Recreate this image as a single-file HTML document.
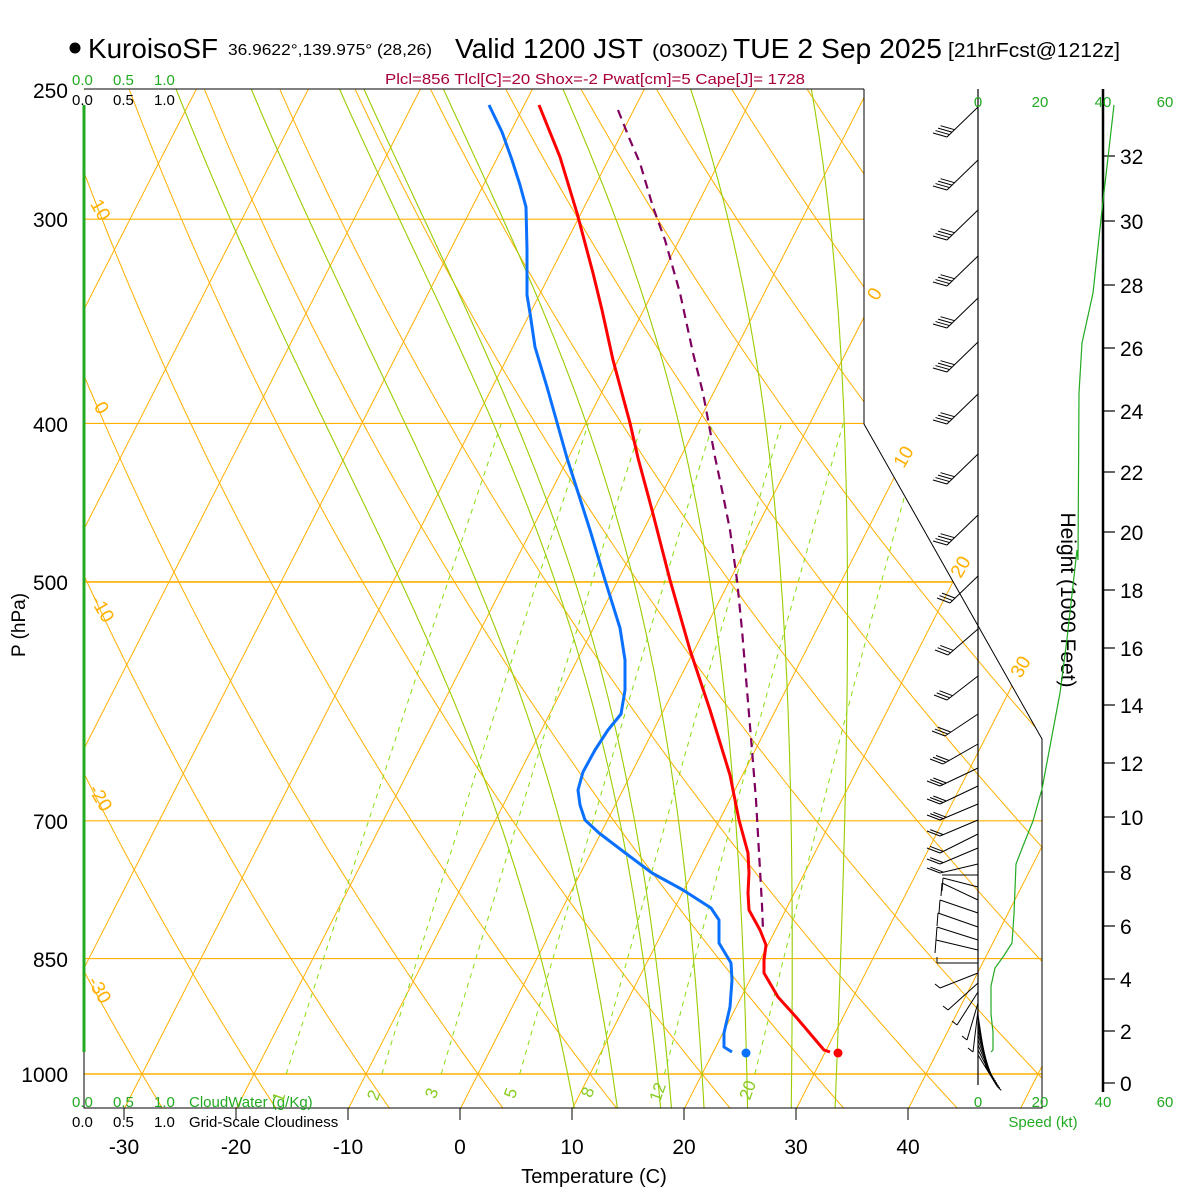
<!DOCTYPE html>
<html><head><meta charset="utf-8">
<style>
html,body{margin:0;padding:0;background:#fff;}
svg{display:block;font-family:"Liberation Sans",Arial,sans-serif;}
</style></head>
<body>
<svg id="s" width="1200" height="1200" viewBox="0 0 1200 1200" xmlns="http://www.w3.org/2000/svg">
<defs>
<clipPath id="cp"><polygon points="84,89 864,89 864,424 1042,739 1042,1108 84,1108"/></clipPath>
<clipPath id="cp2"><polygon points="84,89 864,89 864,424 1042,739 1042,1074 84,1074"/></clipPath>
</defs>
<g id="bg" clip-path="url(#cp)"></g>
<g id="fg"></g>
<!-- frame -->
<polyline points="864,89 84,89" fill="none" stroke="#000" stroke-width="1"/>
<polyline points="864,89 864,424 1042,739 1042,1108 84,1108 84,1052" fill="none" stroke="#000" stroke-width="1"/>
<line x1="84" y1="105" x2="84" y2="1052" stroke="#22aa22" stroke-width="3"/>
<!-- speed / height axes -->
<line x1="978" y1="89" x2="978" y2="1085" stroke="#000" stroke-width="1.2"/>
<line x1="1103" y1="89" x2="1103" y2="1092" stroke="#000" stroke-width="2.5"/>
<g id="ht" font-size="21" fill="#000"></g>
<text transform="translate(1061,600) rotate(90)" font-size="21" text-anchor="middle" fill="#000">Height (1000 Feet)</text>
<!-- title -->
<circle cx="75" cy="48" r="5.5" fill="#000"/>
<text x="88" y="58" font-size="28" textLength="130" lengthAdjust="spacingAndGlyphs">KuroisoSF</text>
<text x="228" y="55" font-size="16" textLength="204" lengthAdjust="spacingAndGlyphs">36.9622°,139.975° (28,26)</text>
<text x="455" y="58" font-size="28" textLength="188" lengthAdjust="spacingAndGlyphs">Valid 1200 JST</text>
<text x="652" y="57" font-size="18" textLength="76" lengthAdjust="spacingAndGlyphs">(0300Z)</text>
<text x="733" y="58" font-size="28" textLength="209" lengthAdjust="spacingAndGlyphs">TUE 2 Sep 2025</text>
<text x="948" y="57" font-size="20" textLength="172" lengthAdjust="spacingAndGlyphs">[21hrFcst@1212z]</text>
<text x="385" y="84" font-size="15" fill="#a8003c" textLength="420" lengthAdjust="spacingAndGlyphs">Plcl=856 Tlcl[C]=20 Shox=-2 Pwat[cm]=5 Cape[J]= 1728</text>
<!-- cloud labels -->
<g font-size="15" fill="#22aa22"><text x="72" y="85">0.0</text><text x="113" y="85">0.5</text><text x="154" y="85">1.0</text></g>
<g font-size="15" fill="#000"><text x="72" y="105">0.0</text><text x="113" y="105">0.5</text><text x="154" y="105">1.0</text></g>
<g font-size="15" fill="#22aa22"><text x="72" y="1107">0.0</text><text x="113" y="1107">0.5</text><text x="154" y="1107">1.0</text><text x="189" y="1107">CloudWater (g/Kg)</text></g>
<g font-size="15" fill="#000"><text x="72" y="1127">0.0</text><text x="113" y="1127">0.5</text><text x="154" y="1127">1.0</text><text x="189" y="1127">Grid-Scale Cloudiness</text></g>
<!-- speed labels -->
<g font-size="15" fill="#22aa22" text-anchor="middle"><text x="978" y="107">0</text><text x="1040" y="107">20</text><text x="1103" y="107">40</text><text x="1165" y="107">60</text>
<text x="978" y="1107">0</text><text x="1040" y="1107">20</text><text x="1103" y="1107">40</text><text x="1165" y="1107">60</text>
<text x="1043" y="1127">Speed (kt)</text></g>
<!-- pressure labels -->
<g font-size="21" fill="#000" text-anchor="end">
<text x="68" y="98">250</text><text x="68" y="227">300</text><text x="68" y="432">400</text><text x="68" y="590">500</text><text x="68" y="829">700</text><text x="68" y="967">850</text><text x="68" y="1082">1000</text></g>
<text transform="translate(25,625) rotate(-90)" font-size="19" text-anchor="middle">P (hPa)</text>
<g id="tl" font-size="21" fill="#000" text-anchor="middle"></g>
<text x="594" y="1183" font-size="20" text-anchor="middle">Temperature (C)</text>
<!-- orange labels -->
<g font-size="19" fill="#ffb000" text-anchor="middle">
<text transform="translate(95,213) rotate(60)">10</text>
<text transform="translate(96,411) rotate(60)">0</text>
<text transform="translate(97,612) rotate(60)">-10</text>
<text transform="translate(95,801) rotate(60)">-20</text>
<text transform="translate(94,993) rotate(60)">-30</text>
<text transform="translate(880,297) rotate(-60)">0</text>
<text transform="translate(909,460) rotate(-60)">10</text>
<text transform="translate(966,570) rotate(-60)">20</text>
<text transform="translate(1026,670) rotate(-60)">30</text>
</g>
<g font-size="17" fill="#88cc22" text-anchor="middle">
<text transform="translate(284,1099) rotate(-70)">1</text>
<text transform="translate(379,1097) rotate(-70)">2</text>
<text transform="translate(437,1095) rotate(-70)">3</text>
<text transform="translate(516,1095) rotate(-70)">5</text>
<text transform="translate(593,1094) rotate(-70)">8</text>
<text transform="translate(663,1094) rotate(-70)">12</text>
<text transform="translate(753,1092) rotate(-70)">20</text>
</g>
<!-- speed profile -->
<polyline fill="none" stroke="#22aa22" stroke-width="1.2" points="1114,105 1102,210 1093,293 1082,343 1079,393 1078,560 1077,550 1067,639 1060,693 1042,789 1033,821 1023,846 1016,864 1014,914 1012,943 1003,957 995,968 991,986 991,1014 993,1032 993,1050 991,1052"/>
<g id="wb" stroke="#000" stroke-width="1" fill="none"></g>
<!-- profiles -->
<polyline fill="none" stroke="#800060" stroke-width="2.2" stroke-dasharray="9,6" points="618,110 630,140 640,163 653,207 665,240 680,293 693,353 703,393 715,457 722,490 730,530 737,580 742,630 747,690 752,750 756,800 758,835 760,870 762,905 763,930"/>
<polyline fill="none" stroke="#ff0000" stroke-width="3" stroke-linejoin="round" points="539,105 560,157 577,213 593,273 602,310 613,360 630,423 638,458 652,510 670,580 690,650 710,710 730,775 739,820 748,853 749,873 748,893 749,910 760,930 766,945 764,960 764,973 778,997 796,1017 813,1037 824,1050 830,1052"/>
<circle cx="838" cy="1053" r="4.5" fill="#ff0000"/>
<polyline fill="none" stroke="#0a70ff" stroke-width="3" stroke-linejoin="round" points="489,105 502,132 512,160 520,185 526,207 527,250 527,295 530,313 535,347 547,387 567,458 590,530 605,580 620,628 625,660 625,690 621,714 608,730 595,750 583,772 578,790 580,805 585,820 599,833 624,852 652,873 683,890 711,908 719,920 719,943 731,963 732,980 730,1007 724,1033 724,1047 732,1052"/>
<circle cx="746" cy="1053" r="4.5" fill="#0a70ff"/>
</svg>
<script>
(function(){
var NS="http://www.w3.org/2000/svg";
function yP(p){return 1074-710*Math.log(1000/p);}
function xT(T,y){return 478+11.2*T+0.51*(1074-y);}
var bg=document.getElementById('bg');
function pl(pts,stroke,w,dash,parent){var e=document.createElementNS(NS,'polyline');e.setAttribute('points',pts.map(function(a){return a[0].toFixed(1)+','+a[1].toFixed(1)}).join(' '));e.setAttribute('fill','none');e.setAttribute('stroke',stroke);e.setAttribute('stroke-width',w);if(dash)e.setAttribute('stroke-dasharray',dash);(parent||bg).appendChild(e);}
var OR="#ffb000";
[300,400,500,700,850,1000].forEach(function(p){var y=yP(p);pl([[84,y],[1100,y]],OR,(p==500||p==1000)?1.6:1.1);});
for(var T=-110;T<=70;T+=10){pl([[xT(T,1108),1108],[xT(T,89),89]],OR,1);}
for(var th=-40;th<=160;th+=10){var pts=[];for(var p=1060;p>=245;p-=10){var T=(th+273.15)*Math.pow(p/1000,0.286)-273.15;var y=yP(p);pts.push([xT(T,y),y]);}pl(pts,OR,1);}
function es(Tc){return 6.112*Math.exp(17.67*Tc/(Tc+243.5));}
function dTdp(T,p){var Tc=T-273.15;var e=es(Tc);var rs=0.622*e/(p-e);var Lv=2.5e6,Rd=287,cp=1004;return (1/p)*(Rd*T+Lv*rs)/(cp+Lv*Lv*rs*0.622/(Rd*T*T));}
var MG="#99cc00";
[8,12,16,17,20,24,28,32].forEach(function(tw){
 var pts=[];var Td=tw+273.15,pd=1000;while(pd<1060){var h=2;Td+=dTdp(Td,pd)*h;pd+=h;}
 var T=Td,p=pd;
 while(p>245){var y=yP(p);pts.push([xT(T-273.15,y),y]);var h=-2;var k1=dTdp(T,p);var k2=dTdp(T+k1*h/2,p+h/2);T+=k2*h;p+=h;}
 pl(pts,MG,1.1);
});
var cp2=document.createElementNS(NS,'g');cp2.setAttribute('clip-path','url(#cp2)');bg.appendChild(cp2);
[1,2,3,5,8,12,20].forEach(function(w){var pts=[];for(var p=1000;p>=400;p-=10){var e=w*p/(622+w);var l=Math.log(e/6.112);var Td=243.5*l/(17.67-l);var y=yP(p);pts.push([xT(Td,y),y]);}pl(pts,"#88dd11",1,"5,5",cp2);});
var tl=document.getElementById('tl');
var fg=document.getElementById('fg');
for(var t=-30;t<=40;t+=10){var x=460+11.2*t;var tx=document.createElementNS(NS,'text');tx.setAttribute('x',x);tx.setAttribute('y',1154);tx.textContent=String(t);tl.appendChild(tx);pl([[x,1108],[x,1120]],"#000",1,null,fg);}
var ht=document.getElementById('ht');
var hy={0:1083,2:1031,4:979,6:926,8:872,10:817,12:763,14:705,16:648,18:590,20:532,22:472,24:411,26:348,28:285,30:221,32:156};
for(var k in hy){var y=hy[k];pl([[1103,y],[1115,y]],"#000",1.2,null,fg);var tx=document.createElementNS(NS,'text');tx.setAttribute('x',1120);tx.setAttribute('y',y+8);tx.textContent=k;ht.appendChild(tx);}
var wb=document.getElementById('wb');
function ln(a,b,c,d){var e=document.createElementNS(NS,'line');e.setAttribute('x1',a);e.setAttribute('y1',b);e.setAttribute('x2',c);e.setAttribute('y2',d);wb.appendChild(e);}
function barb(b,ex,ey,n,fx,fy){ln(978,b,ex,ey);var dx=978-ex,dy=b-ey,L=Math.sqrt(dx*dx+dy*dy);dx/=L;dy/=L;for(var i=0;i<n;i++){var sx=ex+dx*i*3.5,sy=ey+dy*i*3.5;ln(sx,sy,sx+fx,sy+fy);}}
[107,160,210,256,298,342,394,454,515].forEach(function(b){barb(b,947,b+30,4,-14,-4);});
[[576,950,603,3],[629,948,655,3],[676,947,700,3],[714,945,736,3],[744,943,764,3],[768,940,786,3],[786,940,804,3],[804,940,820,3],[820,940,836,2],[834,940,853,2],[848,940,864,2],[864,940,873,2]].forEach(function(a){barb(a[0],a[1],a[2],a[3],-13,-5);});
ln(978,875,942,875);
[[887,943,878],[900,942,883],[913,940,900],[927,938,913],[940,937,927],[950,936,940]].forEach(function(a){ln(978,a[0],a[1],a[2]);ln(a[1],a[2],a[1]-1,a[2]+13);});
ln(978,963,937,963);ln(937,963,937,957);
[[973,940,988],[983,948,1010],[992,957,1025],[1003,967,1040],[1010,973,1052]].forEach(function(a){ln(978,a[0],a[1],a[2]);ln(a[1],a[2],a[1]-5,a[2]-4);});
for(var i=0;i<9;i++){ln(978,1015+i*5,986+i*1.4,1068+i*2.3);ln(986+i*1.4,1068+i*2.3,990+i*1.4,1072+i*2.3);}
})();
</script>
</body></html>
